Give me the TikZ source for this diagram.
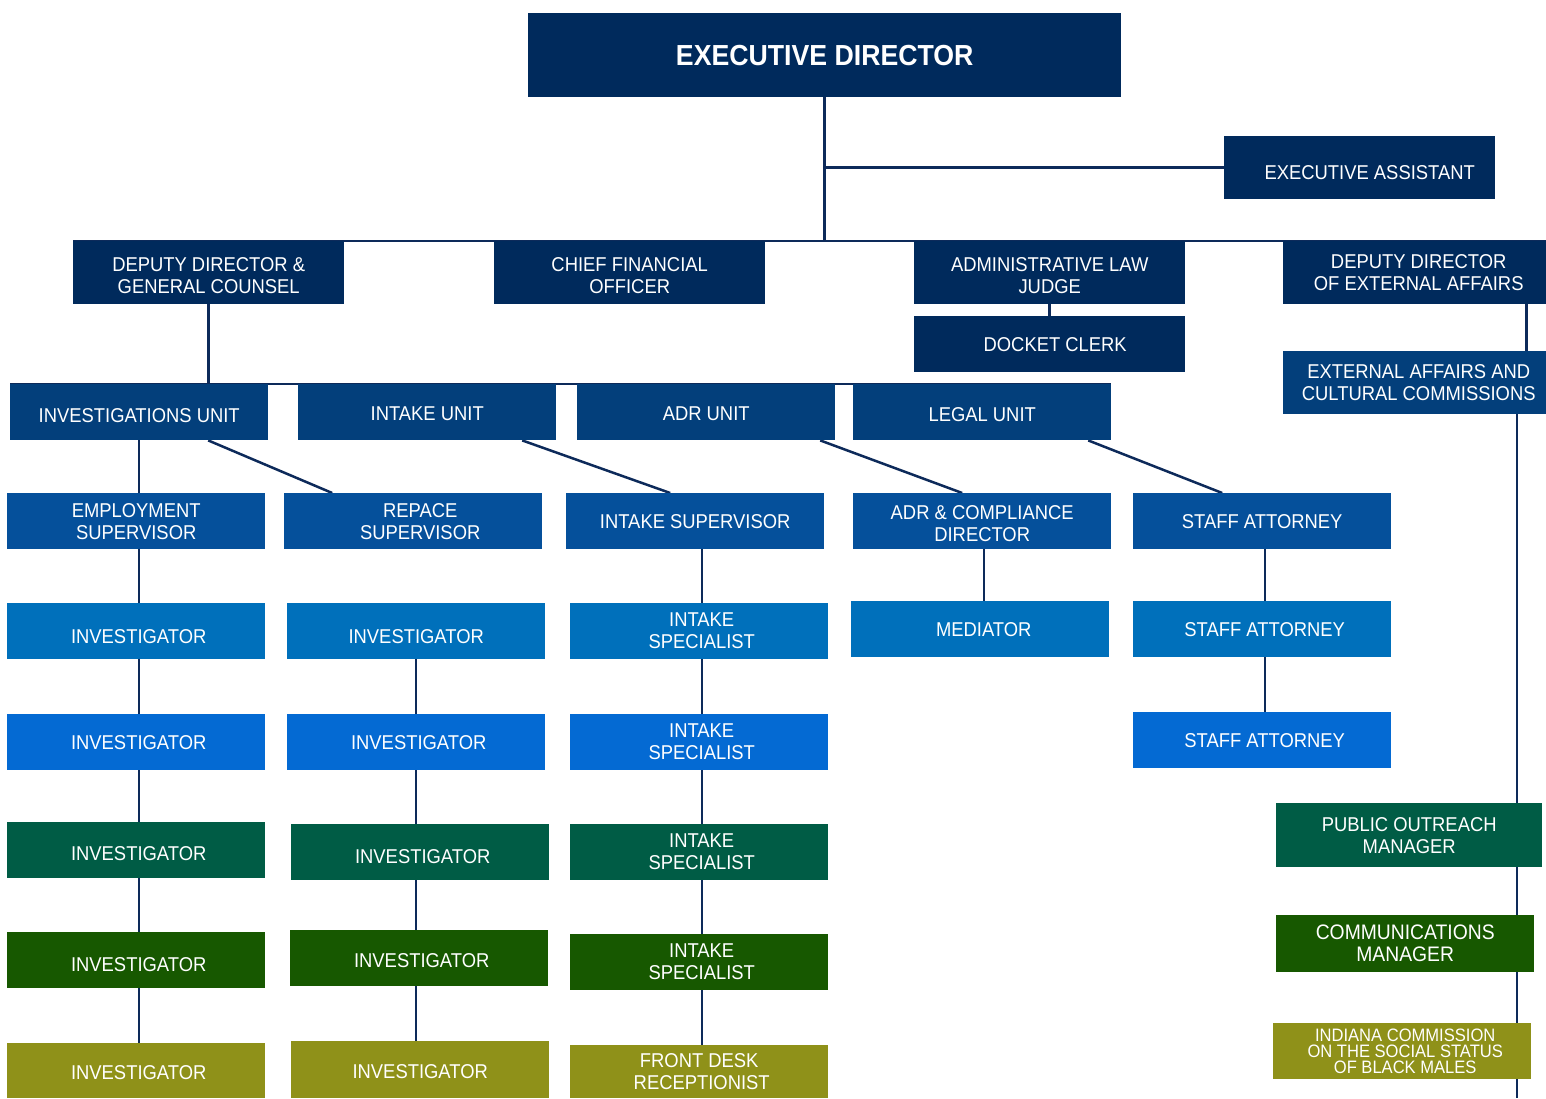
\documentclass[tikz,border=0pt]{standalone}
\usepackage{fontspec}
\setmainfont[FakeStretch=0.92]{Liberation Sans}
\usetikzlibrary{positioning,backgrounds}
\pgfdeclarelayer{background}
\pgfdeclarelayer{foreground}
\pgfsetlayers{background,main,foreground}
\definecolor{Navy}{HTML}{002A5C}
\definecolor{UnitBlue}{HTML}{033F7B}
\definecolor{SupBlue}{HTML}{05509B}
\definecolor{RowA}{HTML}{0070BB}
\definecolor{RowB}{HTML}{046AD3}
\definecolor{RowC}{HTML}{005C45}
\definecolor{RowD}{HTML}{175800}
\definecolor{RowE}{HTML}{8F9119}
\definecolor{Wire}{HTML}{0D2A5A}
\newcommand{\Wide}{271}
\newcommand{\Cell}{258}
\newcommand{\Nudge}[1]{\hspace*{#1pt}}
\newcommand{\Drop}[2]{\raisebox{-#1pt}[\height][\depth]{#2}}
\tikzset{Box/.style={
    inner sep=0pt,
    minimum width=\Cell,
    minimum height=56,
    anchor=north west,
    text=white,
    align=center,
    font=\fontsize{20}{22}\selectfont,
    }
}

\begin{document}
\begin{tikzpicture}[x=1pt, y=-1pt,
    Top/.style={Box, fill=Navy, minimum width=\Wide, minimum height=63},
    wire/.style={draw=Wire, line width=2.5pt},
]
\useasboundingbox (0,0) rectangle (1546,1098);
% head
\node [Box, fill=Navy, minimum width=593, minimum height=84,
  font=\fontsize{29}{30}\selectfont\bfseries] (ed) at (528,13) {EXECUTIVE DIRECTOR};
\node [Top] (ea) at (1224,136) {\Drop{5}{\Nudge{20}EXECUTIVE ASSISTANT}};
% deputies
\node [Top] (ddgc) at (73,241) {\Drop{3}{DEPUTY DIRECTOR \&}\\\Drop{3}{GENERAL COUNSEL}};
\node [Top] (cfo) at (494,241) {\Drop{3}{CHIEF FINANCIAL}\\\Drop{3}{OFFICER}};
\node [Top] (alj) at (914,241) {\Drop{3}{ADMINISTRATIVE LAW}\\\Drop{3}{JUDGE}};
\node [Top] (ddea) at (1283,241) {DEPUTY DIRECTOR\\OF EXTERNAL AFFAIRS};
\node [Top, minimum height=56] (clerk) at (914,316) {\Nudge{11}DOCKET CLERK};
\node [Top, fill=UnitBlue] (eacc) at (1283,351) {EXTERNAL AFFAIRS AND\\CULTURAL COMMISSIONS};
% units
\node [Box, fill=UnitBlue] (invu) at (10,384) {\Drop{3}{INVESTIGATIONS UNIT}};
\node [Box, fill=UnitBlue] (intu) at (298,384) {\Drop{2}{INTAKE UNIT}};
\node [Box, fill=UnitBlue] (adru) at (577,384) {\Drop{2}{ADR UNIT}};
\node [Box, fill=UnitBlue] (legu) at (853,384) {\Drop{2}{LEGAL UNIT}};
% supervisors
\node [Box, fill=SupBlue] (emp) at (7,493) {EMPLOYMENT\\SUPERVISOR};
\node [Box, fill=SupBlue] (rep) at (284,493) {\Nudge{14}REPACE\\\Nudge{14}SUPERVISOR};
\node [Box, fill=SupBlue] (isup) at (566,493) {INTAKE SUPERVISOR};
\node [Box, fill=SupBlue] (adrc) at (853,493) {\Drop{2}{ADR \& COMPLIANCE}\\\Drop{2}{DIRECTOR}};
\node [Box, fill=SupBlue] (sa1) at (1133,493) {STAFF ATTORNEY};
% investigations column
\node [Box, fill=RowA] (inva) at (7,603) {\Drop{5}{\Nudge{5}INVESTIGATOR}};
\node [Box, fill=RowB] (invb) at (7,714) {\Nudge{5}INVESTIGATOR};
\node [Box, fill=RowC] (invc) at (7,822) {\Drop{3}{\Nudge{5}INVESTIGATOR}};
\node [Box, fill=RowD] (invd) at (7,932) {\Drop{4}{\Nudge{5}INVESTIGATOR}};
\node [Box, fill=RowE, minimum height=55] (inve) at (7,1043) {\Drop{2}{\Nudge{5}INVESTIGATOR}};
% repace column
\node [Box, fill=RowA] (repa) at (287,603) {\Drop{5}{INVESTIGATOR}};
\node [Box, fill=RowB] (repb) at (287,714) {\Nudge{5}INVESTIGATOR};
\node [Box, fill=RowC] (repc) at (291,824) {\Drop{4}{\Nudge{5}INVESTIGATOR}};
\node [Box, fill=RowD] (repd) at (290,930) {\Drop{2}{\Nudge{5}INVESTIGATOR}};
\node [Box, fill=RowE, minimum height=57] (repe) at (291,1041) {\Drop{2}{INVESTIGATOR}};
% intake column
\node [Box, fill=RowA] (spa) at (570,603) {\Nudge{5}INTAKE\\\Nudge{5}SPECIALIST};
\node [Box, fill=RowB] (spb) at (570,714) {\Nudge{5}INTAKE\\\Nudge{5}SPECIALIST};
\node [Box, fill=RowC] (spc) at (570,824) {\Nudge{5}INTAKE\\\Nudge{5}SPECIALIST};
\node [Box, fill=RowD] (spd) at (570,934) {\Nudge{5}INTAKE\\\Nudge{5}SPECIALIST};
\node [Box, fill=RowE, minimum height=53] (desk) at (570,1045) {FRONT DESK\\\Nudge{5}RECEPTIONIST};
% adr and legal columns
\node [Box, fill=RowA] (med) at (851,601) {\Nudge{7}MEDIATOR};
\node [Box, fill=RowA] (sa2) at (1133,601) {\Nudge{5}STAFF ATTORNEY};
\node [Box, fill=RowB] (sa3) at (1133,712) {\Nudge{5}STAFF ATTORNEY};
% external affairs column
\node [Box, fill=RowC, minimum width=266, minimum height=64] (pom) at (1276,803) {PUBLIC OUTREACH\\MANAGER};
\node [Box, fill=RowD, minimum height=57, font=\fontsize{21}{22}\selectfont] (com) at (1276,915) {COMMUNICATIONS\\MANAGER};
\node [Box, fill=RowE, minimum height=56, font=\fontsize{18}{16}\selectfont] (icsbm) at (1273,1023) {\Nudge{6}INDIANA COMMISSION\\\Nudge{6}ON THE SOCIAL STATUS\\\Nudge{6}OF BLACK MALES};
\coordinate (tail) at (1517,1098);

\begin{pgfonlayer}{background}
\draw [wire] (ed.south) -- (ed.south |- ddgc.north);
\draw [wire] (ea.west) -- (ea.west -| ed.south);
\draw [wire] (ddgc.north west) -- (ddea.north east);
\draw [wire] (alj.south) -- (clerk.north);
\draw [wire] ([xshift=108]ddea.south) -- ([xshift=108]ddea.south |- eacc.north);
\draw [wire] (tail |- eacc.south) -- (tail);
\draw [wire] (ddgc.south) -- (ddgc.south |- invu.north);
\draw [wire] (invu.north west) -- (legu.north east);
\draw [wire] (invu.south) -- (invu.south |- emp.north);
\draw [wire] ([xshift=69]invu.south) -- ([xshift=-81]rep.north);
\draw [wire] ([xshift=95]intu.south) -- ([xshift=-25]isup.north);
\draw [wire] ([xshift=114]adru.south) -- ([xshift=-20]adrc.north);
\draw [wire] ([xshift=106]legu.south) -- ([xshift=-40]sa1.north);
\draw [wire] (invu.south |- emp.south) -- (invu.south |- inve.north);
\draw [wire] (spa.north -| repa.north) -- (repa.north |- repe.north);
\draw [wire] ([xshift=3]spa.north |- isup.south) -- ([xshift=3]spa.north |- desk.north);
\draw [wire] ([xshift=2]adrc.south) -- ([xshift=2]adrc.south |- med.north);
\draw [wire] ([xshift=3]sa1.south) -- ([xshift=3]sa1.south |- sa3.north);
\end{pgfonlayer}
\end{tikzpicture}
\end{document}
